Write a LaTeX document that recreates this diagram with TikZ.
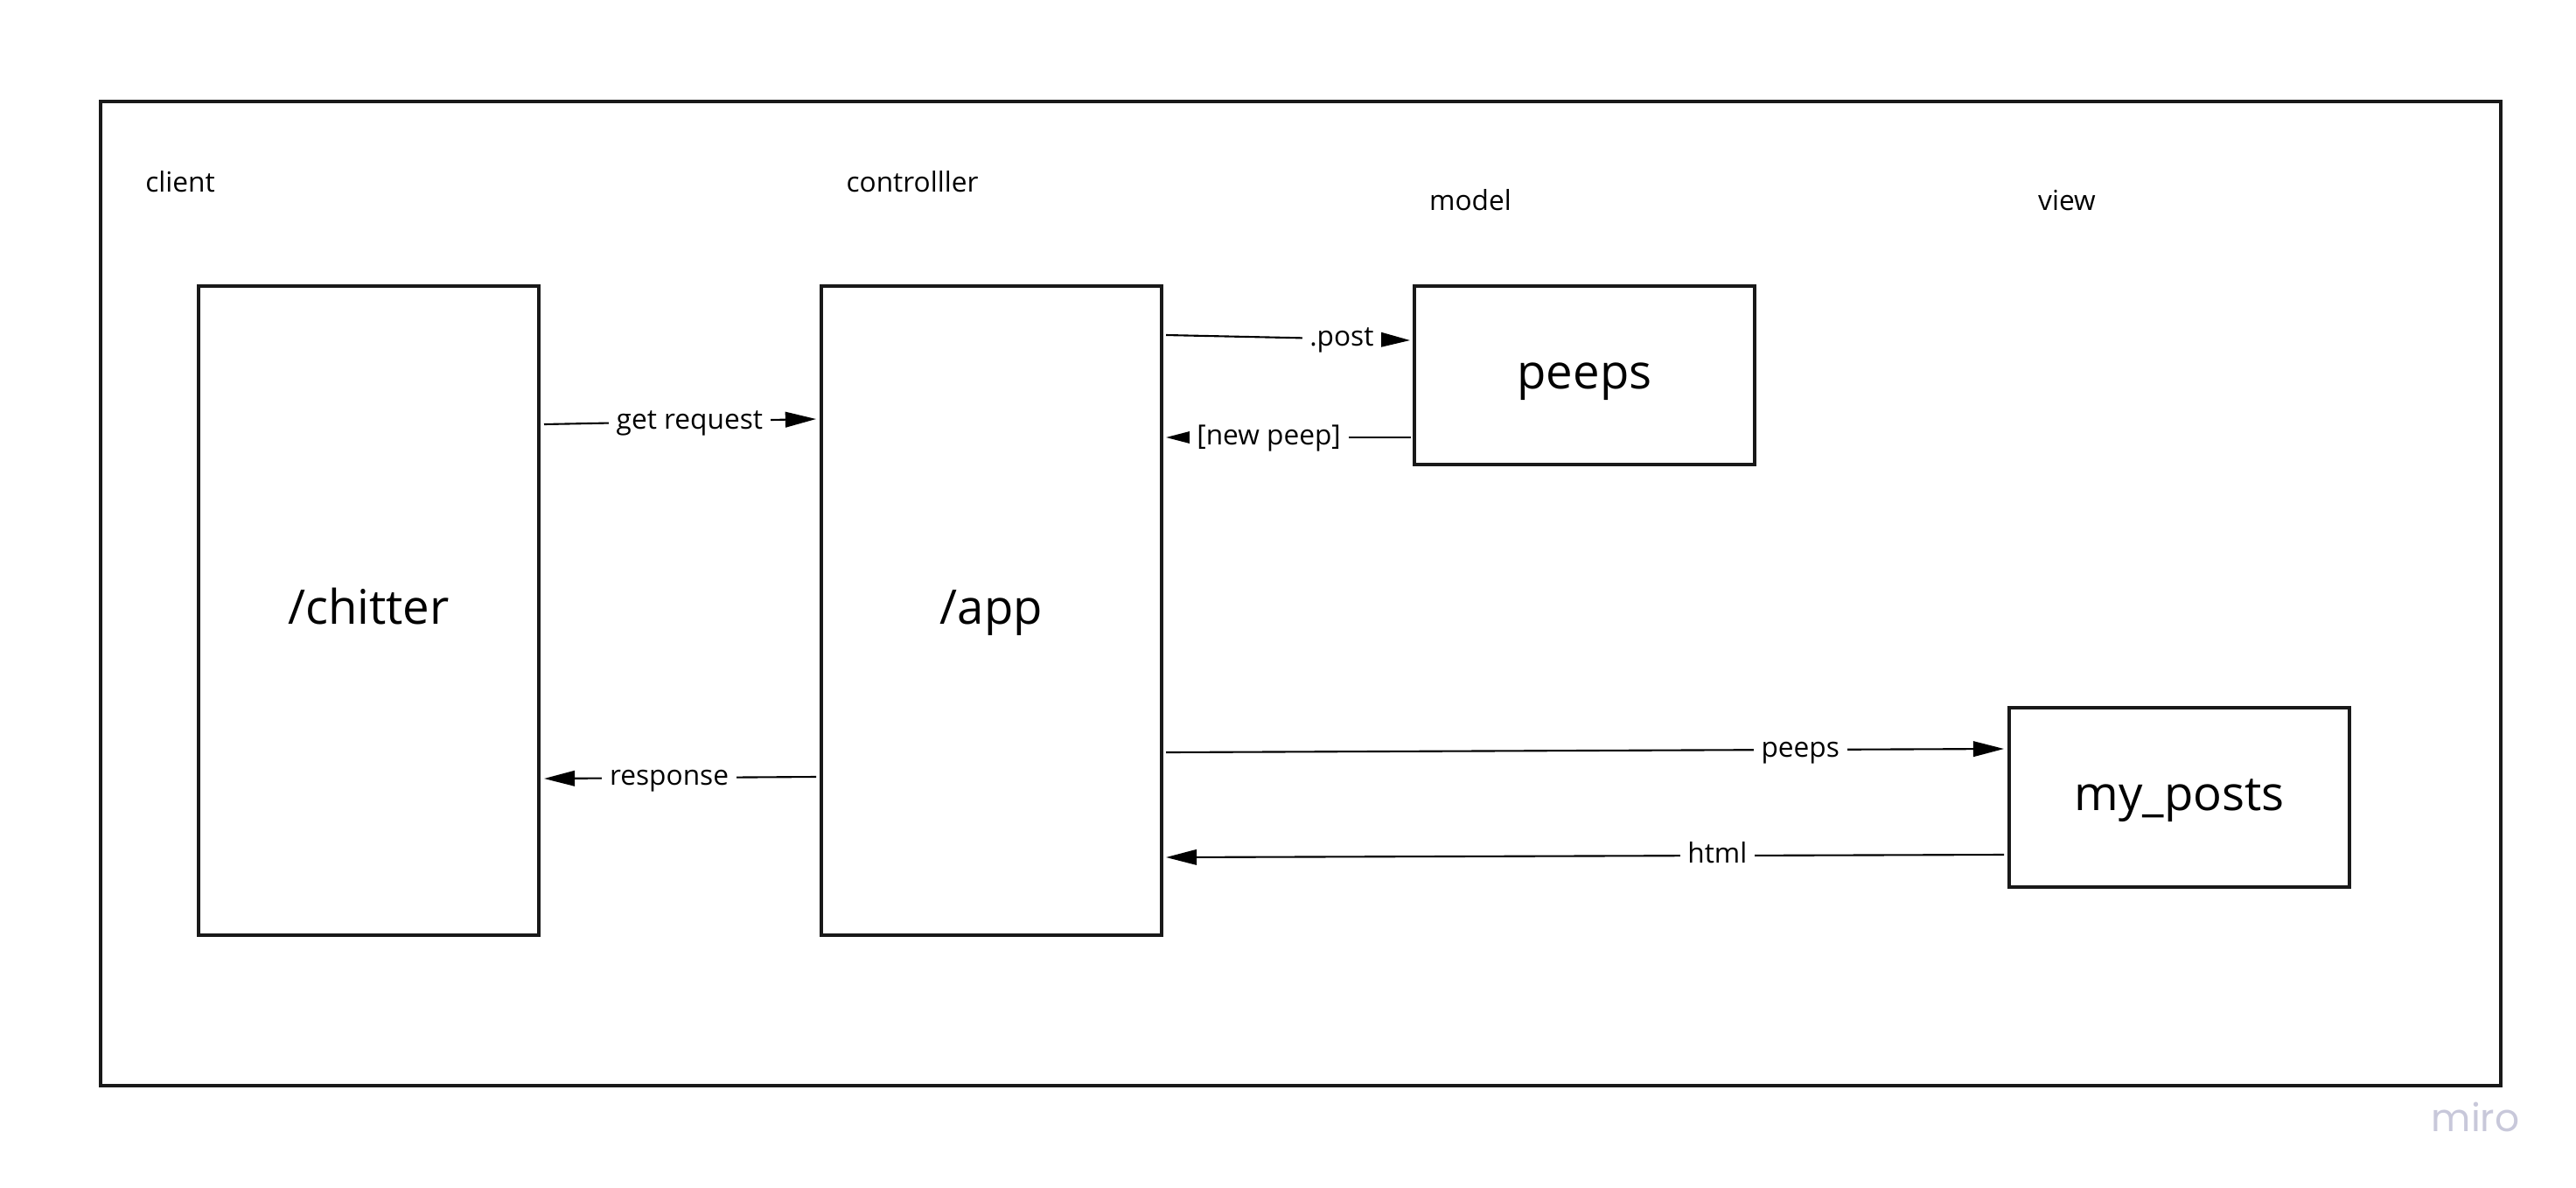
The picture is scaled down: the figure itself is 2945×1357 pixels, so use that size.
\documentclass[tikz,border=0pt]{standalone}
\usepackage{fontspec}
\setmainfont{Open Sans}
\newfontfamily\mirofont{Poppins}
\usetikzlibrary{arrows.meta}
\definecolor{mirogray}{RGB}{200,200,218}
\tikzset{
  blockbox/.style={draw=black!90, line width=1.2pt, minimum width=3.89cm, inner sep=0pt, text height=11pt, text depth=2.4pt, font=\fontsize{15.5}{18}\selectfont},
  lanelabel/.style={font=\fontsize{9}{11}\selectfont, inner sep=0pt},
  flow/.style={line width=0.6pt, -{Triangle[length=10pt,width=5pt]}},
  flowlabel/.style={font=\fontsize{9}{11}\selectfont, fill=white, inner sep=2.5pt, text height=6.8pt, text depth=2pt}
}
\begin{document}
\begin{tikzpicture}[x=0.01cm, y=-0.01cm]
\useasboundingbox (0,0) rectangle (2945,1357);
\node[draw=black!90, line width=1.2pt, minimum width=27.42cm, minimum height=11.25cm, inner sep=0pt] (frame) at (1487,678.5) {};
% lane labels
\node[lanelabel] (client) at (206,208) {client};
\node[lanelabel] (ctrl) at (1043,208) {controlller};
\node[lanelabel] (model) at (1681,229) {model};
\node[lanelabel] (view) at (2363,229) {view};
% boxes
\node[blockbox, minimum height=7.42cm] (chitter) at (421.5,698) {/chitter};
\node[blockbox, minimum height=7.42cm] (app) at (1133.5,698) {/app};
\node[blockbox, minimum height=2.04cm] (peeps) at (1811.5,429) {peeps};
\node[blockbox, minimum height=2.05cm] (posts) at (2491.5,911.5) {my\_posts};
% endpoints
\coordinate (g1) at (622,485); \coordinate (g2) at (933,479);
\coordinate (p1) at (1333,383); \coordinate (p2) at (1612,389);
\coordinate (n1) at (1613,500); \coordinate (n2) at (1333,500);
\coordinate (r1) at (933,888); \coordinate (r2) at (622,890);
\coordinate (e1) at (1333,860); \coordinate (e2) at (2291,856);
\coordinate (h1) at (2291,977); \coordinate (h2) at (1333,980);
\draw[flow] (g1) -- node[flowlabel, pos=0.535] {get request} (g2);
\draw[flow] (p1) -- node[flowlabel, pos=0.72] {.post} (p2);
\draw[flow] (n1) -- node[flowlabel, pos=0.58] {[new peep]} (n2);
\draw[flow] (r1) -- node[flowlabel, pos=0.54] {response} (r2);
\draw[flow] (e1) -- node[flowlabel, pos=0.757] {peeps} (e2);
\draw[flow] (h1) -- node[flowlabel, pos=0.342] {html} (h2);
\node[font=\mirofont\fontsize{12.5}{14}\selectfont, text=mirogray, inner sep=0pt] (miro) at (2830,1277) {miro};
\end{tikzpicture}
\end{document}
